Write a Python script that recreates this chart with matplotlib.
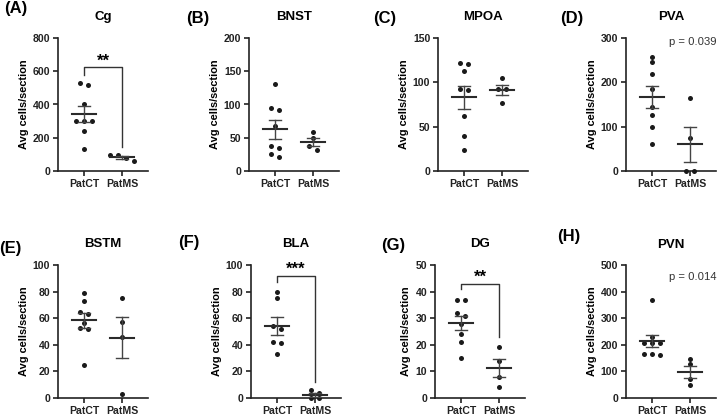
import matplotlib
matplotlib.use('Agg')
import matplotlib.pyplot as plt
import numpy as np

plt.rcParams['font.family'] = ['Liberation Sans', 'DejaVu Sans']

groups = ['PatCT', 'PatMS']
regions = ['Cg', 'BNST', 'MPOA', 'PVA', 'BSTM', 'BLA', 'DG', 'PVN']
letters = ['(A)', '(B)', '(C)', '(D)', '(E)', '(F)', '(G)', '(H)']

cg_ct = [527, 517, 403, 301, 299, 302, 242, 130]
cg_ms = [98, 96, 76, 60]
bnst_ct = [131, 95, 92, 67, 38, 34, 25, 21]
bnst_ms = [59, 49, 37, 32]
mpoa_ct = [121, 122, 113, 92, 91, 62, 39, 24]
mpoa_ms = [105, 92, 92, 77]
pva_ct = [257, 246, 219, 186, 144, 126, 99, 62]
pva_ms = [165, 75, 0, 0]
bstm_ct = [79, 73, 63.5, 64.5, 56.5, 53, 52, 25]
bstm_ms = [75, 57, 46, 3]
bla_ct = [80, 75, 54, 52, 42.4, 41, 33]
bla_ms = [4, 6, 0, 0]
dg_ct = [37, 37, 31, 32, 28, 24, 21, 15]
dg_ms = [19, 14, 8, 4]
pvn_ct = [369, 230, 208, 205, 208, 165, 162, 165]
pvn_ms = [145, 128, 72, 47]

ct_data = [cg_ct, bnst_ct, mpoa_ct, pva_ct, bstm_ct, bla_ct, dg_ct, pvn_ct]
ms_data = [cg_ms, bnst_ms, mpoa_ms, pva_ms, bstm_ms, bla_ms, dg_ms, pvn_ms]
ymax = [800, 200, 150, 300, 100, 100, 50, 500]
ystep = [200, 50, 50, 100, 20, 20, 10, 100]

# significance: region -> (stars, bracket top, left end, right end)
stars = {'Cg': ('**', 624, 577, 146), 'BLA': ('***', 92, 87, 12), 'DG': ('**', 43, 41, 23)}
pvals = {'PVA': ('p = 0.039', 290), 'PVN': ('p = 0.014', 456)}

W, H = 720, 415
fig = plt.figure(figsize=(7.2, 4.15), dpi=100)

lefts = [58, 249, 438, 626, 58, 251, 435, 626]
bottoms_px = [171] * 4 + [398] * 4
ax_w, ax_h = 90, 133
letter_pos = [(16, 9), (198, 19), (385, 18), (572, 18), (10, 249), (189, 242), (393, 245), (569, 236)]
title_y = [17, 17, 17, 17, 244, 244, 244, 245]

XL = (-0.68, 1.68)
d = 0.21


def swarm(vals, scale, thr=4.0):
    vals = np.asarray(vals, float)
    order = np.argsort(-vals, kind='stable')
    offs = np.zeros(len(vals))
    clusters = [[order[0]]]
    for i in order[1:]:
        if (vals[clusters[-1][-1]] - vals[i]) * scale < thr:
            clusters[-1].append(i)
        else:
            clusters.append([i])
    for c in clusters:
        n = len(c)
        for k, i in enumerate(c):
            offs[i] = (k - (n - 1) / 2) * d
    return offs


for i, reg in enumerate(regions):
    ax = fig.add_axes([lefts[i] / W, 1 - bottoms_px[i] / H, ax_w / W, ax_h / H])
    scale = ax_h / ymax[i]
    for gx, vals in enumerate([ct_data[i], ms_data[i]]):
        vals = np.asarray(vals, float)
        xs = gx + swarm(vals, scale)
        ax.plot(xs, vals, 'o', color='#1a1a1a', ms=3.6, mec='none', clip_on=False, zorder=3)
        m = vals.mean()
        sem = vals.std(ddof=1) / np.sqrt(len(vals))
        ax.plot([gx - 0.32, gx + 0.32], [m, m], color='#2a2a2a', lw=1.5, zorder=4)
        ax.plot([gx, gx], [m - sem, m + sem], color='#444444', lw=1.0, zorder=4)
        for yy in (m - sem, m + sem):
            ax.plot([gx - 0.16, gx + 0.16], [yy, yy], color='#444444', lw=1.0, zorder=4)
    ax.set_xlim(*XL)
    ax.set_ylim(0, ymax[i])
    ax.set_yticks(np.arange(0, ymax[i] + 1, ystep[i]))
    ax.set_xticks([0, 1])
    ax.set_xticklabels(groups, fontsize=7.6, fontweight='bold')
    for lab in ax.get_yticklabels():
        lab.set_fontsize(7.6)
        lab.set_fontweight('bold')
    ax.tick_params(length=3.5, width=1.2, pad=2, colors='#222222')
    for s in ['top', 'right']:
        ax.spines[s].set_visible(False)
    for s in ['left', 'bottom']:
        ax.spines[s].set_linewidth(1.2)
        ax.spines[s].set_color('#222222')
    ax.set_ylabel('Avg cells/section', fontsize=7.9, fontweight='bold', labelpad=3)

    if reg in stars:
        st, top, l_end, r_end = stars[reg]
        ax.plot([0, 0, 1, 1], [l_end, top, top, r_end], color='#333333', lw=1.0, clip_on=False)
        ax.text(0.5, top - ymax[i] * 0.01, st, ha='center', va='bottom', fontsize=12, fontweight='bold')
    if reg in pvals:
        txt, py = pvals[reg]
        ax.text(1.08, py, txt, ha='center', va='center', fontsize=8.1, color='#333333')

    cx = (lefts[i] + ax_w / 2) / W
    fig.text(cx, 1 - title_y[i] / H, reg, ha='center', va='center', fontsize=9.5, fontweight='bold')
    lx, ly = letter_pos[i]
    fig.text(lx / W, 1 - ly / H, letters[i], ha='center', va='center', fontsize=12, fontweight='bold')

fig.savefig('out.png', dpi=100)
